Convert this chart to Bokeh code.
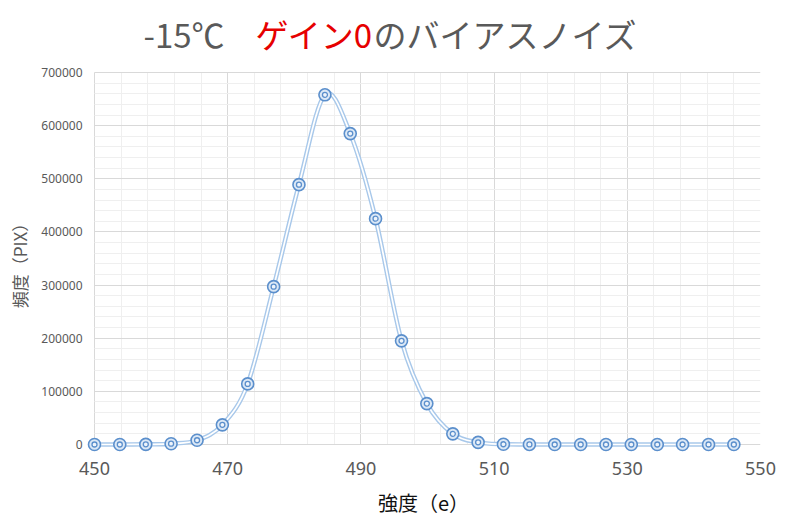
from bokeh.plotting import figure
from bokeh.models import Range1d, FixedTicker, NumeralTickFormatter, Label
from bokeh.layouts import column
from bokeh.embed import file_html
from bokeh.resources import INLINE

# ---- data ----
intensity = [450.0, 453.8, 457.7, 461.5, 465.4, 469.2, 473.0, 476.9, 480.7, 484.6,
             488.4, 492.2, 496.1, 499.9, 503.8, 507.6, 511.4, 515.3, 519.1, 523.0,
             526.8, 530.6, 534.5, 538.3, 542.2, 546.0]
frequency = [0, 0, 300, 1500, 8000, 37000, 114000, 297000, 489000, 658000,
             585000, 425000, 195000, 77000, 20000, 4000, 500, 100, 0, 0,
             0, 0, 0, 0, 0, 0]
x_ticks = [450, 470, 490, 510, 530, 550]
x_minor = [454, 458, 462, 466, 474, 478, 482, 486, 494, 498, 502, 506,
           514, 518, 522, 526, 534, 538, 542, 546]
y_ticks = [0, 100000, 200000, 300000, 400000, 500000, 600000, 700000]
y_minor = [v + k * 20000 for v in y_ticks[:-1] for k in range(1, 5)]
title_parts = ["-15℃", "ゲイン0", "のバイアスノイズ"]
x_label = "強度（e）"
y_label = "頻度（PIX）"

GREY = "#595959"

# geometry (pixels)
XMIN, XMAX, YMIN, YMAX = 450, 550, 0, 700000
AREA_W, AREA_H = 666, 372
PAD_L, PAD_B, PAD_T = 8, 8, 2
LEFT, RIGHT, BOTTOM, TOP = 86, 20, 76, 8
TITLE_H = 62
upx = (XMAX - XMIN) / AREA_W
vpx = (YMAX - YMIN) / AREA_H
FW = AREA_W + PAD_L

# ---- title strip (same horizontal frame as the chart) ----
t = figure(frame_width=FW, frame_height=TITLE_H,
           x_range=Range1d(0, FW), y_range=Range1d(0, TITLE_H),
           x_axis_type=None, y_axis_type=None,
           output_backend="svg", toolbar_location=None,
           min_border_left=LEFT, min_border_right=RIGHT, min_border_top=0, min_border_bottom=0,
           background_fill_color="white", border_fill_color="white")
t.outline_line_color = None
t.grid.visible = False
for txt, xpos, col in zip(title_parts, [57, 169, 287], [GREY, "#e60000", GREY]):
    t.add_layout(Label(x=xpos, y=TITLE_H - 33, text=txt, text_color=col,
                       text_font="Noto Sans CJK JP", text_font_size="33px",
                       text_baseline="middle", text_align="left"))

# ---- main chart ----
p = figure(frame_width=FW, frame_height=AREA_H + PAD_B + PAD_T,
           x_range=Range1d(XMIN - PAD_L * upx, XMAX),
           y_range=Range1d(YMIN - PAD_B * vpx, YMAX + PAD_T * vpx),
           output_backend="svg", toolbar_location=None,
           min_border_left=LEFT, min_border_right=RIGHT,
           min_border_top=TOP, min_border_bottom=BOTTOM,
           background_fill_color="white", border_fill_color="white")
p.outline_line_color = None

p.xaxis.ticker = FixedTicker(ticks=x_ticks, minor_ticks=x_minor)
p.yaxis.ticker = FixedTicker(ticks=y_ticks, minor_ticks=y_minor)
p.yaxis.formatter = NumeralTickFormatter(format="0")
p.xaxis.bounds = (XMIN - 3, XMAX)
p.yaxis.bounds = (YMIN, YMAX)

for ax in (p.xaxis[0], p.yaxis[0]):
    ax.axis_line_color = None
    ax.major_tick_line_color = None
    ax.minor_tick_line_color = None
    ax.major_tick_out = 0
    ax.minor_tick_out = 0
    ax.major_label_text_color = GREY

p.xaxis.major_label_text_font = "Noto Sans"
p.xaxis.major_label_text_font_size = "18px"
p.xaxis.major_label_standoff = 9
p.xaxis.axis_label = x_label
p.xaxis.axis_label_text_font = "Noto Sans CJK JP"
p.xaxis.axis_label_text_font_size = "20px"
p.xaxis.axis_label_text_font_style = "normal"
p.xaxis.axis_label_text_color = "#111111"
p.xaxis.axis_label_standoff = 10

p.yaxis.major_label_text_font = "Noto Sans"
p.yaxis.major_label_text_font_size = "12px"
p.yaxis.major_label_standoff = 4
p.yaxis.axis_label = y_label
p.yaxis.axis_label_text_font = "Noto Sans CJK JP"
p.yaxis.axis_label_text_font_size = "17px"
p.yaxis.axis_label_text_font_style = "normal"
p.yaxis.axis_label_text_color = GREY
p.yaxis.axis_label_standoff = 6

for g in (p.xgrid[0], p.ygrid[0]):
    g.grid_line_color = "#d9d9d9"
    g.grid_line_width = 1
    g.minor_grid_line_color = "#efefef"
    g.minor_grid_line_width = 1
p.xgrid[0].cross_bounds = (YMIN, YMAX)
p.ygrid[0].cross_bounds = (XMIN, XMAX)

# smooth curve (Catmull-Rom style Bezier through the data points)
n = len(intensity)
x0, y0, x1, y1, cx0, cy0, cx1, cy1 = [], [], [], [], [], [], [], []
k = 1.0 / 6.0
for i in range(n - 1):
    im = max(i - 1, 0)
    ip2 = min(i + 2, n - 1)
    x0.append(intensity[i]); y0.append(frequency[i])
    x1.append(intensity[i + 1]); y1.append(frequency[i + 1])
    cx0.append(intensity[i] + (intensity[i + 1] - intensity[im]) * k)
    cy0.append(frequency[i] + (frequency[i + 1] - frequency[im]) * k)
    cx1.append(intensity[i + 1] - (intensity[ip2] - intensity[i]) * k)
    cy1.append(frequency[i + 1] - (frequency[ip2] - frequency[i]) * k)

p.bezier(x0=x0, y0=y0, x1=x1, y1=y1, cx0=cx0, cy0=cy0, cx1=cx1, cy1=cy1,
         line_color="#a8c8ea", line_width=4.5)
p.bezier(x0=x0, y0=y0, x1=x1, y1=y1, cx0=cx0, cy0=cy0, cx1=cx1, cy1=cy1,
         line_color="white", line_width=1.7)

p.scatter(intensity, frequency, marker="circle", size=12,
          line_color="#5b8fcc", line_width=1.6, fill_color="#dbe8f6")
p.scatter(intensity, frequency, marker="circle", size=5,
          line_color="#5b8fcc", line_width=1.3, fill_color="#eef4fb")

layout = column(t, p, spacing=0)
open("out.html", "w").write(file_html(layout, INLINE))
